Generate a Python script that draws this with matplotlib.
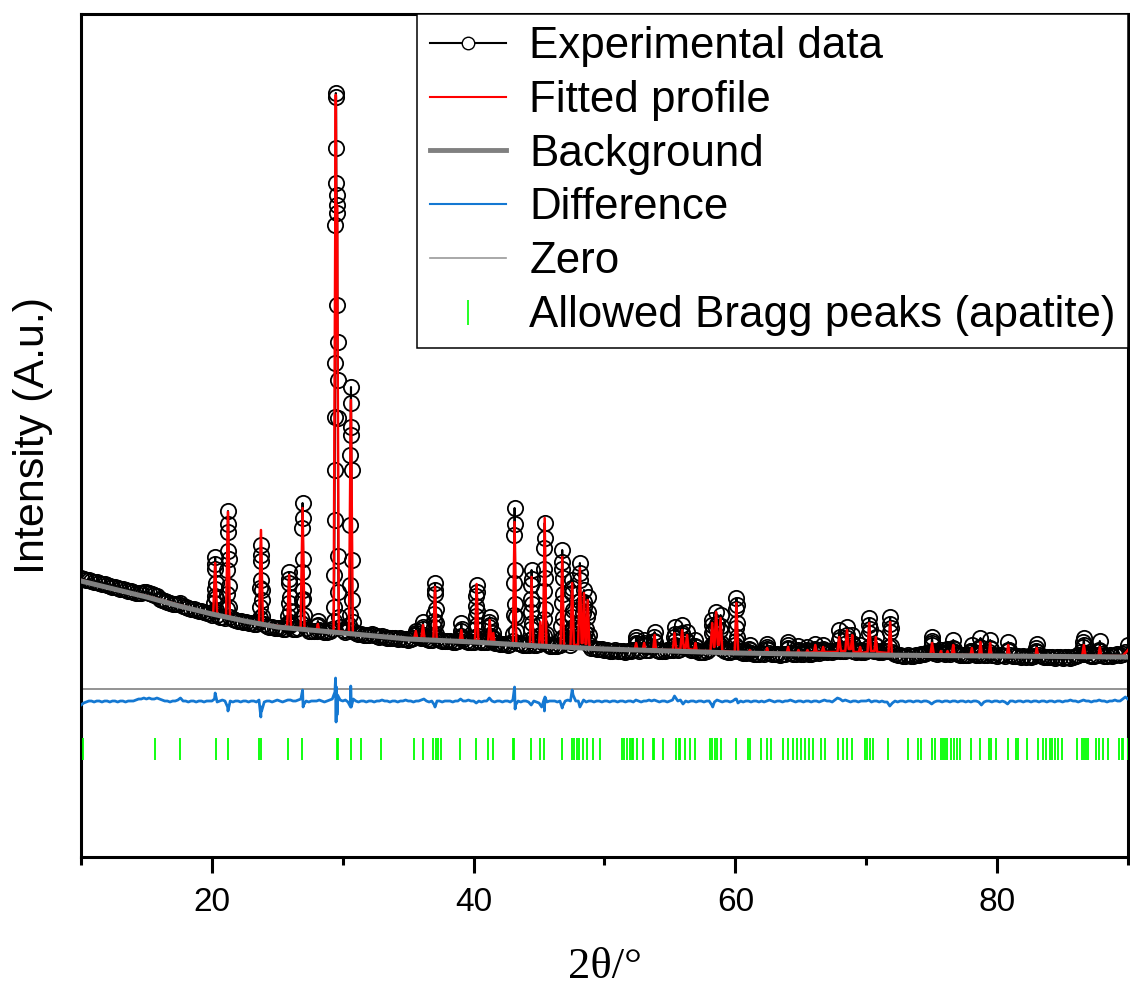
import numpy as np
import matplotlib
matplotlib.use('Agg')
import matplotlib.pyplot as plt
from matplotlib.lines import Line2D
from matplotlib.ticker import FixedLocator

plt.rcParams['font.family'] = ['Liberation Sans', 'DejaVu Sans']

#%% data (intensity in arbitrary units, scan step 0.2 deg from 10 to 90)
obs_grid_int = [
    279, 278, 277, 277, 276, 275, 275, 274, 273, 273,   # 10
    272, 271, 270, 270, 269, 268, 268, 267, 266, 266,   # 12
    265, 264, 264, 264, 265, 265, 264, 263, 262, 261,   # 14
    258, 257, 256, 255, 254, 253, 253, 253, 254, 251,   # 16
    250, 249, 248, 248, 247, 246, 246, 245, 244, 244,   # 18
    242, 261, 242, 240, 240, 239, 306, 240, 238, 237,   # 20
    236, 236, 235, 235, 234, 234, 233, 233, 235, 267,   # 22
    233, 231, 230, 230, 229, 229, 229, 228, 228, 232,   # 24
    232, 228, 228, 229, 234, 258, 229, 226, 226, 226,   # 26
    226, 227, 226, 225, 225, 226, 228, 440, 515, 230,   # 28
    227, 225, 226, 430, 226, 224, 223, 223, 222, 222,   # 30
    222, 223, 222, 221, 220, 221, 220, 219, 219, 219,   # 32
    219, 218, 219, 218, 218, 217, 218, 219, 224, 220,   # 34
    219, 219, 218, 217, 217, 236, 219, 217, 216, 216,   # 36
    216, 216, 215, 215, 216, 221, 218, 216, 215, 215,   # 38
    215, 251, 216, 215, 215, 215, 235, 216, 214, 214,   # 40
    213, 213, 213, 212, 213, 216, 240, 214, 213, 212,   # 42
    212, 212, 258, 212, 212, 213, 215, 288, 213, 211,   # 44
    211, 211, 211, 212, 279, 220, 216, 212, 224, 220,   # 46
    218, 230, 255, 228, 212, 209, 209, 208, 208, 208,   # 48
    207, 207, 206, 206, 207, 206, 206, 206, 205, 206,   # 50
    206, 207, 217, 206, 207, 214, 207, 207, 210, 220,   # 52
    207, 206, 206, 206, 207, 207, 207, 216, 207, 208,   # 54
    210, 210, 209, 207, 207, 207, 205, 205, 205, 206,   # 56
    208, 232, 214, 214, 211, 208, 206, 205, 205, 206,   # 58
    212, 206, 205, 204, 204, 205, 204, 203, 203, 203,   # 60
    204, 203, 210, 204, 203, 203, 203, 202, 203, 203,   # 62
    212, 204, 203, 203, 205, 203, 203, 204, 203, 203,   # 64
    204, 206, 204, 205, 206, 205, 206, 205, 206, 207,   # 66
    206, 206, 206, 208, 209, 206, 205, 206, 205, 205,   # 68
    206, 232, 207, 206, 206, 205, 205, 206, 206, 233,   # 70
    205, 203, 202, 202, 201, 201, 202, 201, 201, 202,   # 72
    202, 203, 203, 204, 205, 216, 204, 203, 205, 204,   # 74
    203, 207, 203, 206, 204, 203, 202, 202, 202, 202,   # 76
    206, 203, 202, 202, 203, 202, 202, 205, 202, 202,   # 78
    201, 202, 202, 201, 206, 202, 201, 201, 201, 200,   # 80
    201, 200, 201, 200, 201, 209, 202, 201, 200, 200,   # 82
    200, 200, 199, 200, 200, 199, 200, 200, 199, 200,   # 84
    201, 202, 205, 215, 204, 202, 201, 201, 202, 206,   # 86
    203, 201, 201, 202, 201, 202, 203, 202, 203, 205,   # 88
    212,
]

# extra observed points on the Bragg reflections
peak_tth = [
    20.16, 20.19, 20.21, 20.23, 20.25, 20.27, 20.29, 20.31, 20.34,
    21.14, 21.17, 21.19, 21.21, 21.23, 21.25, 21.27, 21.29, 21.32,
    23.66, 23.69, 23.71, 23.73, 23.75, 23.77, 23.79, 23.81, 23.84,
    25.81, 25.84, 25.86, 25.88, 25.90, 25.92, 25.94, 25.96, 25.99,
    26.84, 26.87, 26.89, 26.91, 26.93, 26.95, 26.97, 26.99, 27.02,
    28.07, 28.10, 28.13,
    29.30, 29.33, 29.35, 29.37, 29.39, 29.41, 29.43, 29.45, 29.47, 29.49,
    29.51, 29.53, 29.55, 29.57, 29.59, 29.61, 29.63, 29.65, 29.67, 29.70,
    30.50, 30.53, 30.55, 30.57, 30.59, 30.61, 30.63, 30.65, 30.67, 30.69, 30.71, 30.75,
    35.55, 35.58, 35.61,
    36.07, 36.10, 36.13, 36.16, 36.19,
    36.96, 36.99, 37.01, 37.03, 37.05, 37.07, 37.09, 37.11, 37.14,
    38.99, 39.03, 39.06, 39.09, 39.12,
    40.14, 40.17, 40.19, 40.21, 40.23, 40.25, 40.27, 40.29, 40.32,
    41.16, 41.19, 41.23, 41.26, 41.29,
    41.47, 41.50, 41.53,
    43.04, 43.07, 43.09, 43.11, 43.13, 43.15, 43.17, 43.19, 43.22,
    44.34, 44.37, 44.39, 44.41, 44.43, 44.45, 44.47, 44.49, 44.52,
    45.07, 45.10, 45.13,
    45.34, 45.37, 45.39, 45.41, 45.43, 45.45, 45.47, 45.49, 45.52,
    46.68, 46.71, 46.73, 46.75, 46.77, 46.79, 46.81, 46.83, 46.86,
    47.44, 47.47, 47.49, 47.51, 47.53, 47.55, 47.57, 47.59, 47.62,
    48.03, 48.06, 48.08, 48.10, 48.12, 48.14, 48.16, 48.18, 48.21,
    48.36, 48.39, 48.43, 48.46, 48.49,
    48.66, 48.69, 48.72, 48.75, 48.78,
    52.39, 52.42, 52.45,
    52.99, 53.03, 53.06,
    53.79, 53.83, 53.86,
    55.29, 55.32, 55.35, 55.38, 55.41,
    55.87, 55.90, 55.93, 55.96, 55.99,
    56.27, 56.31, 56.34,
    56.92, 56.95, 56.98,
    58.17, 58.19, 58.23, 58.26, 58.29,
    58.47, 58.50, 58.53, 58.56, 58.59,
    58.81, 58.84, 58.87, 58.90, 58.93,
    59.99, 60.02, 60.04, 60.06, 60.08, 60.10, 60.12, 60.14, 60.17,
    61.07, 61.10, 61.13,
    62.39, 62.43, 62.46,
    63.99, 64.03, 64.06,
    64.77, 64.82, 64.85, 65.47, 65.51, 65.54,
    66.07, 66.11, 66.14, 66.67, 66.71, 66.74,
    67.87, 67.90, 67.93, 67.96, 67.99,
    68.47, 68.50, 68.53, 68.56, 68.59,
    68.89, 68.93, 68.96,
    69.49, 69.53, 69.56,
    70.17, 70.19, 70.23, 70.26, 70.29,
    70.69, 70.73, 70.76,
    71.77, 71.79, 71.83, 71.86, 71.89,
    74.96, 74.99, 75.03, 75.06, 75.09,
    75.67, 75.71, 75.74, 76.17, 76.21, 76.24,
    76.61, 76.65, 76.68,
    78.03, 78.07, 78.10,
    78.69, 78.73, 78.76,
    79.43, 79.47, 79.50,
    80.81, 80.85, 80.88,
    82.99, 83.03, 83.06,
    86.56, 86.59, 86.63, 86.66, 86.69,
    87.81, 87.85, 87.88,
]
peak_int = [
    246, 254, 268, 288, 300, 293, 274, 259, 247,
    248, 263, 287, 325, 346, 333, 298, 271, 250,
    239, 250, 269, 296, 312, 302, 277, 257, 241,
    234, 241, 254, 274, 285, 278, 260, 246, 235,
    239, 257, 285, 329, 354, 339, 298, 267, 242,
    231, 236, 232,
    236, 250, 282, 337, 387, 494, 632, 709, 764, 760,
    674, 662, 652, 644, 552, 477, 439, 301, 265, 240,
    232, 242, 272, 332, 402, 454, 470, 422, 387, 297, 257, 235,
    222, 226, 222,
    221, 228, 235, 230, 222,
    222, 230, 243, 263, 274, 267, 248, 234, 223,
    219, 226, 234, 228, 220,
    220, 228, 241, 261, 272, 265, 246, 232, 221,
    219, 230, 240, 232, 221,
    219, 224, 218,
    223, 242, 274, 322, 349, 333, 287, 253, 226,
    217, 228, 245, 272, 287, 278, 253, 234, 219,
    222, 232, 222,
    221, 238, 266, 309, 334, 319, 279, 248, 223,
    218, 231, 254, 288, 307, 295, 263, 239, 220,
    215, 225, 240, 264, 277, 269, 247, 230, 217,
    216, 228, 247, 277, 294, 284, 256, 235, 218,
    221, 244, 267, 250, 224,
    219, 240, 260, 245, 222,
    214, 220, 213,
    212, 217, 211,
    216, 225, 215,
    211, 220, 230, 223, 212,
    211, 222, 232, 224, 212,
    216, 225, 215,
    211, 217, 210,
    211, 224, 237, 227, 213,
    213, 229, 245, 233, 215,
    212, 227, 242, 231, 214,
    208, 216, 229, 248, 259, 252, 234, 220, 209,
    208, 212, 207,
    208, 213, 207,
    209, 215, 208,
    207, 211, 206, 207, 210, 206,
    208, 213, 207, 208, 212, 207,
    207, 217, 227, 220, 208,
    208, 219, 230, 222, 209,
    214, 222, 212,
    207, 212, 206,
    209, 224, 239, 228, 211,
    212, 220, 211,
    210, 225, 240, 229, 211,
    205, 212, 220, 214, 206,
    204, 207, 204, 205, 208, 204,
    209, 217, 208,
    206, 212, 205,
    210, 219, 209,
    209, 217, 208,
    207, 215, 207,
    206, 213, 205,
    203, 210, 219, 212, 204,
    207, 216, 206,
]

# fitted profile
calc_tth = [
    10.0, 12.5, 15.0, 17.5,
    20.10, 20.25, 20.40, 21.08, 21.23, 21.38, 23.60, 23.75, 23.90,
    25.75, 25.90, 26.05, 26.78, 26.93, 27.08, 28.00, 28.10, 28.20,
    29.30, 29.47, 29.53, 29.56, 29.70, 30.47, 30.62, 30.77,
    33.0, 35.45, 35.58, 35.70, 36.00, 36.13, 36.26, 36.92, 37.05, 37.18,
    38.93, 39.06, 39.19, 40.10, 40.23, 40.36, 41.10, 41.23, 41.36,
    41.40, 41.50, 41.60, 43.00, 43.13, 43.26, 44.30, 44.43, 44.56,
    45.00, 45.10, 45.25, 45.30, 45.43, 45.56, 46.64, 46.77, 46.90,
    47.40, 47.53, 47.66, 47.99, 48.12, 48.25, 48.33, 48.43, 48.55,
    48.62, 48.72, 48.85, 50.0,
    52.30, 52.42, 52.52, 52.92, 53.03, 53.14, 53.72, 53.83, 53.94,
    55.22, 55.35, 55.48, 55.80, 55.93, 56.06, 56.20, 56.31, 56.42,
    56.85, 56.95, 57.05, 58.10, 58.23, 58.36, 58.40, 58.53, 58.66,
    58.74, 58.87, 59.00, 59.95, 60.08, 60.21, 61.00, 61.10, 61.20,
    62.33, 62.43, 62.53, 63.93, 64.03, 64.13,
    64.72, 64.82, 64.92, 65.41, 65.51, 65.61,
    66.01, 66.11, 66.21, 66.61, 66.71, 66.81,
    67.80, 67.93, 68.06, 68.40, 68.53, 68.66, 68.83, 68.93, 69.03,
    69.43, 69.53, 69.63, 70.10, 70.23, 70.36, 70.63, 70.73, 70.83,
    71.70, 71.83, 71.96, 73.0, 74.90, 75.03, 75.16,
    75.61, 75.71, 75.81, 76.11, 76.21, 76.31, 76.55, 76.65, 76.75,
    77.97, 78.07, 78.17, 78.63, 78.73, 78.83, 79.37, 79.47, 79.57,
    80.75, 80.85, 80.95, 82.93, 83.03, 83.13, 85.0,
    86.50, 86.63, 86.76, 87.75, 87.85, 87.95, 89.6, 90.0,
]
calc_int = [
    277, 268, 261, 252,
    243, 294, 242, 240, 345, 239, 234, 327, 233,
    230, 282, 229, 229, 349, 228, 227, 233, 226,
    226, 762, 520, 652, 226, 224, 457, 223,
    221, 218, 226, 218, 218, 232, 217, 217, 270, 217,
    215, 227, 215, 215, 273, 215, 214, 237, 214,
    214, 224, 214, 213, 335, 212, 212, 280, 211,
    212, 235, 211, 211, 339, 211, 210, 300, 211,
    211, 274, 212, 212, 289, 214, 214, 264, 213,
    213, 257, 210, 208,
    207, 214, 207, 207, 214, 207, 207, 222, 207,
    207, 224, 208, 208, 227, 209, 209, 222, 208,
    207, 214, 206, 206, 234, 210, 210, 245, 212,
    212, 239, 206, 205, 254, 205, 204, 207, 204,
    204, 209, 204, 204, 210, 204,
    204, 207, 204, 204, 207, 204,
    205, 212, 205, 205, 210, 205,
    205, 220, 206, 206, 227, 208, 208, 222, 205,
    205, 210, 204, 205, 234, 206, 206, 220, 205,
    204, 235, 203, 202, 202, 214, 203,
    202, 206, 202, 202, 206, 202, 203, 212, 202,
    202, 209, 202, 202, 215, 202, 202, 214, 201,
    201, 212, 201, 201, 209, 201, 200,
    201, 212, 201, 201, 210, 201, 201, 207,
]

# refined background
bg_tth = [10, 12.5, 15, 17.5, 20, 22.5, 25, 27.5, 30, 35, 40, 45, 50, 55, 60, 65, 70, 80, 90]
bg_int = [276, 268, 260, 251, 243, 236, 230, 227, 224, 218, 215, 211, 208, 206, 204, 203, 202, 201, 200]

# difference curve (shifted below the pattern), same 0.2 deg grid
diff_grid_int = [
    152, 154, 155, 156, 156, 155, 156, 156, 155, 156,   # 10
    156, 155, 156, 156, 155, 156, 156, 155, 156, 156,   # 12
    156, 157, 158, 158, 159, 158, 159, 158, 158, 159,   # 14
    158, 157, 156, 156, 155, 156, 156, 157, 159, 156,   # 16
    156, 155, 156, 156, 155, 156, 156, 155, 156, 156,   # 18
    156, 158, 155, 156, 157, 156, 150, 156, 155, 156,   # 20
    156, 155, 156, 156, 155, 156, 156, 155, 157, 146,   # 22
    155, 156, 156, 155, 156, 157, 156, 155, 156, 157,   # 24
    157, 156, 156, 157, 158, 152, 156, 155, 156, 156,   # 26
    156, 157, 156, 155, 156, 157, 158, 165, 148, 157,   # 28
    156, 157, 155, 150, 158, 156, 155, 156, 156, 155,   # 30
    156, 156, 155, 156, 156, 157, 156, 156, 155, 156,   # 32
    156, 155, 156, 156, 157, 156, 156, 155, 156, 156,   # 34
    157, 158, 156, 155, 156, 152, 156, 156, 155, 156,   # 36
    156, 156, 155, 156, 156, 158, 156, 156, 157, 156,   # 38
    156, 154, 156, 155, 156, 156, 159, 156, 155, 156,   # 40
    156, 155, 156, 156, 155, 157, 152, 156, 155, 156,   # 42
    156, 155, 152, 156, 155, 154, 150, 158, 155, 156,   # 44
    156, 156, 155, 156, 151, 156, 157, 156, 162, 156,   # 46
    156, 152, 157, 155, 156, 156, 155, 156, 156, 155,   # 48
    156, 156, 155, 156, 156, 155, 156, 156, 155, 156,   # 50
    156, 155, 157, 156, 155, 156, 156, 157, 156, 157,   # 52
    156, 155, 156, 156, 155, 156, 157, 160, 156, 157,   # 54
    153, 156, 155, 156, 156, 155, 156, 156, 155, 156,   # 56
    156, 152, 155, 157, 156, 155, 156, 156, 155, 156,   # 58
    158, 154, 156, 155, 156, 156, 155, 156, 156, 155,   # 60
    156, 155, 156, 157, 156, 155, 156, 156, 155, 156,   # 62
    156, 157, 156, 155, 156, 156, 155, 156, 156, 155,   # 64
    156, 156, 155, 156, 157, 156, 156, 155, 157, 159,   # 66
    158, 156, 157, 156, 155, 156, 156, 155, 156, 156,   # 68
    156, 157, 155, 156, 156, 155, 156, 155, 155, 151,   # 70
    154, 156, 155, 156, 156, 155, 156, 156, 155, 156,   # 72
    156, 155, 156, 156, 155, 153, 155, 156, 156, 155,   # 74
    156, 156, 155, 156, 156, 155, 156, 156, 155, 156,   # 76
    155, 156, 156, 155, 152, 155, 156, 156, 155, 156,   # 78
    156, 155, 156, 155, 153, 156, 156, 155, 156, 156,   # 80
    155, 156, 156, 155, 156, 156, 155, 156, 156, 155,   # 82
    156, 156, 155, 156, 156, 155, 156, 156, 157, 156,   # 84
    156, 155, 156, 157, 156, 156, 155, 156, 156, 157,   # 86
    156, 156, 155, 156, 156, 157, 156, 156, 158, 160,   # 88
    158,
]
diff_peak_tth = [20.25, 21.23, 23.74, 23.77, 26.93, 26.97, 29.45, 29.49, 29.52, 29.56, 29.60,
                 30.61, 30.65, 37.05, 43.13, 43.17, 45.41, 45.45, 46.77, 47.53, 48.12, 55.35,
                 58.27, 60.08]
diff_peak_int = [164, 146, 140, 150, 167, 150, 179, 135, 170, 142, 162,
                 171, 150, 150, 170, 148, 146, 160, 149, 167, 150, 161,
                 150, 158]
zero_level = 168

# allowed Bragg reflections (apatite)
bragg_tth = [10.13, 15.65, 17.58, 20.31, 21.20, 23.61, 23.74, 25.82, 26.92, 29.54, 29.67,
             30.66, 31.43, 32.95, 35.44, 36.10, 36.91, 37.10, 37.30, 37.48, 38.95, 40.18,
             41.12, 41.50, 43.03, 43.10, 44.35, 45.07, 45.39, 46.72, 47.49, 47.66, 47.87,
             48.07, 48.37, 48.63, 49.09, 49.65, 51.31, 51.48, 51.69, 51.94, 52.12, 52.19,
             52.50, 52.96, 53.67, 53.77, 54.48, 55.45, 55.68, 55.76, 56.14, 56.52, 56.91,
             58.05, 58.23, 58.43, 58.61, 58.87, 60.04, 60.98, 61.10, 61.93, 62.43, 62.69,
             63.65, 64.03, 64.37, 64.72, 64.98, 65.31, 65.64, 65.94, 66.58, 66.84, 67.85,
             68.23, 68.54, 68.88, 69.89, 70.07, 70.27, 70.53, 71.67, 73.20, 73.92, 74.15,
             75.06, 75.24, 75.75, 75.87, 76.00, 76.18, 76.46, 76.69, 76.90, 77.15, 77.97,
             78.68, 79.39, 79.57, 79.90, 80.84, 81.43, 81.61, 82.25, 83.13, 83.51, 83.77,
             84.03, 84.23, 84.40, 84.66, 84.97, 86.07, 86.45, 86.62, 86.78, 86.95, 87.59,
             87.80, 88.06, 88.48, 89.32, 89.51, 89.63, 89.97]
bragg_low, bragg_high = 97, 119

#%% assemble
grid_tth = np.linspace(10, 90, len(obs_grid_int))
obs_tth = np.concatenate([grid_tth, peak_tth])
obs_int = np.concatenate([obs_grid_int, peak_int])
o = np.argsort(obs_tth, kind='stable')
obs_tth, obs_int = obs_tth[o], obs_int[o]

diff_tth = np.concatenate([grid_tth, diff_peak_tth])
diff_int = np.concatenate([diff_grid_int, diff_peak_int])
o = np.argsort(diff_tth, kind='stable')
diff_tth, diff_int = diff_tth[o], diff_int[o]

#%% plot
fig = plt.figure(figsize=(11.3, 9.91), dpi=100)
ax = fig.add_axes([0.0717, 0.1352, 0.9265, 0.8507])

blue = '#1478D2'
ax.plot(obs_tth, obs_int, color='black', lw=1.5, marker='o', ms=11,
        mfc='none', mec='black', mew=1.3, zorder=2)
ax.plot(calc_tth, calc_int, color='red', lw=1.8, zorder=3)
ax.plot(bg_tth, bg_int, color='#808080', lw=3.6, zorder=4)
ax.plot(diff_tth, diff_int, color=blue, lw=2.0, zorder=3)
ax.axhline(zero_level, color='#808080', lw=1.2, zorder=2)
ax.vlines(bragg_tth, bragg_low, bragg_high, color='#00FF00', lw=1.3, zorder=3)

ax.set_xlim(10, 90)
ax.set_ylim(0, 843)
ax.set_yticks([])
ax.set_xticks([20, 40, 60, 80])
ax.xaxis.set_minor_locator(FixedLocator([10, 30, 50, 70, 90]))
ax.tick_params(axis='x', which='major', length=11.5, width=2.2, direction='out',
               labelsize=24, pad=10)
ax.tick_params(axis='x', which='minor', length=5.8, width=2.2, direction='out')
for s in ax.spines.values():
    s.set_linewidth(2.2)

ax.set_ylabel('Intensity (A.u.)', fontsize=31, labelpad=20)
ax.set_xlabel('2θ/°', fontsize=32, family=['Liberation Serif', 'DejaVu Serif'], labelpad=21)

handles = [
    Line2D([], [], color='black', lw=1.5, marker='o', ms=9, mfc='white', mec='black', mew=1.0),
    Line2D([], [], color='red', lw=1.5),
    Line2D([], [], color='#808080', lw=3.5),
    Line2D([], [], color=blue, lw=1.5),
    Line2D([], [], color='#999999', lw=1.2),
    Line2D([], [], color='#00FF00', lw=0, marker='|', ms=18, mew=1.2),
]
labels = ['Experimental data', 'Fitted profile', 'Background', 'Difference', 'Zero',
          'Allowed Bragg peaks (apatite)']
leg = ax.legend(handles, labels, loc='upper right', borderaxespad=0, fontsize=31.6,
                fancybox=False, edgecolor='black', framealpha=1, handlelength=1.75,
                handletextpad=0.52, labelspacing=0.29, borderpad=0.28)
leg.get_frame().set_linewidth(1.1)
leg.set_zorder(10)

fig.savefig('out.png', dpi=100)
